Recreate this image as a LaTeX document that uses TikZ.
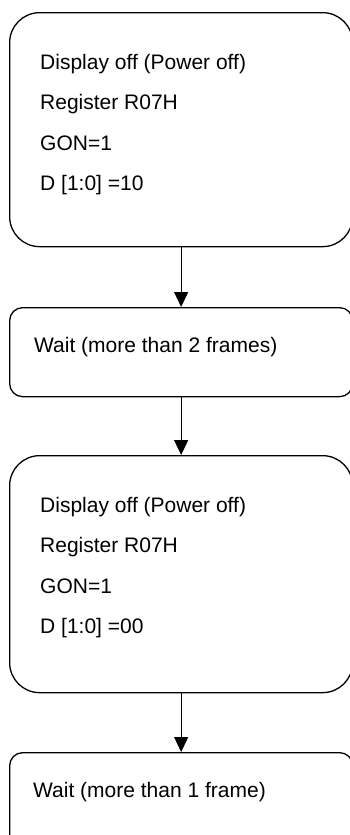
\documentclass[tikz,border=0pt]{standalone}
\usepackage{fontspec}
\setmainfont{Liberation Sans}
\usetikzlibrary{arrows.meta}
\begin{document}
\begin{tikzpicture}[x=1pt,y=-1pt,
  bigbox/.style={draw=black, line width=1.3pt, rounded corners=30pt, anchor=north west, inner sep=0pt},
  smallbox/.style={draw=black, line width=1.3pt, rounded corners=13pt, anchor=north west, inner sep=0pt},
  label/.style={anchor=base west, inner sep=0pt, font=\fontsize{21}{25}\selectfont},
  flow/.style={line width=1.3pt, -{Triangle[length=15pt,width=14pt]}}]
\useasboundingbox (0,0) rectangle (350,835);
\clip (0,0) rectangle (350,835);
% boxes
\node[bigbox, minimum width=343pt, minimum height=234pt] (b1) at (9,12) {};
\node[smallbox, minimum width=343pt, minimum height=89pt] (b2) at (9,307) {};
\node[bigbox, minimum width=343pt, minimum height=237pt] (b3) at (9,455) {};
\node[smallbox, minimum width=343pt, minimum height=95pt] (b4) at (9,752) {};
% texts
\node[label] (t11) at (40,69) {Display off (Power off)};
\node[label] (t12) at (40,109.5) {Register R07H};
\node[label] (t13) at (40,150) {GON=1};
\node[label] (t14) at (40,190.5) {D [1:0] =10};
\node[label] (t2) at (34,352) {Wait (more than 2 frames)};
\node[label] (t31) at (40,512) {Display off (Power off)};
\node[label] (t32) at (40,552.5) {Register R07H};
\node[label] (t33) at (40,593) {GON=1};
\node[label] (t34) at (40,633.5) {D [1:0] =00};
\node[label] (t4) at (33,797) {Wait (more than 1 frame)};
% arrows
\draw[flow] (b1.south) -- (b2.north);
\draw[flow] (b2.south) -- (b3.north);
\draw[flow] (b3.south) -- (b4.north);
\end{tikzpicture}
\end{document}
